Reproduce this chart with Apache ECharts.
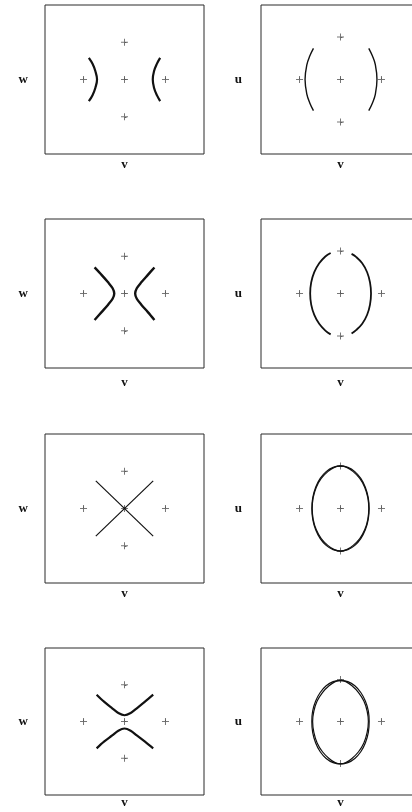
<!DOCTYPE html>
<html>
<head>
<meta charset="utf-8">
<script src="https://cdn.jsdelivr.net/npm/echarts@6/dist/echarts.min.js"></script>
<style>
  html, body { margin: 0; padding: 0; background: #fff; }
  #chart { width: 412px; height: 812px; }
</style>
</head>
<body>
<div id="chart"></div>
<script>
// Reference crosses and edge ticks (data units)
const crossPts = [[0, 0], [1, 0], [-1, 0], [0, 1], [0, -1]]
const tickVals = [-1, 0, 1]

// Row 1
const r1LeftA = [[-0.87, 0.58], [-0.78, 0.42], [-0.71, 0.22], [-0.67, 0], [-0.71, -0.22], [-0.78, -0.42], [-0.87, -0.58]]
const r1LeftB = [[0.87, 0.58], [0.79, 0.42], [0.72, 0.22], [0.69, 0], [0.72, -0.22], [0.79, -0.42], [0.87, -0.58]]
const r1RightA = [[-0.66, 0.73], [-0.75, 0.55], [-0.82, 0.35], [-0.865, 0], [-0.82, -0.35], [-0.75, -0.55], [-0.66, -0.73]]
const r1RightB = [[0.69, 0.73], [0.78, 0.55], [0.85, 0.35], [0.89, 0], [0.85, -0.35], [0.78, -0.55], [0.69, -0.73]]

// Row 2
const r2LeftA = [[-0.73, 0.70], [-0.56, 0.50], [-0.40, 0.30], [-0.29, 0.14], [-0.25, 0], [-0.29, -0.14], [-0.40, -0.30], [-0.56, -0.50], [-0.73, -0.71]]
const r2LeftB = [[0.73, 0.70], [0.57, 0.50], [0.41, 0.30], [0.30, 0.14], [0.26, 0], [0.30, -0.14], [0.41, -0.30], [0.57, -0.50], [0.73, -0.71]]
const r2RightA = [[-0.24, 0.95], [-0.37, 0.87], [-0.52, 0.71], [-0.64, 0.50], [-0.715, 0.26], [-0.74, 0], [-0.715, -0.26], [-0.64, -0.50], [-0.52, -0.71], [-0.37, -0.87], [-0.24, -0.96]]
const r2RightB = [[0.27, 0.93], [0.38, 0.86], [0.53, 0.71], [0.65, 0.50], [0.72, 0.26], [0.745, 0], [0.72, -0.26], [0.65, -0.50], [0.53, -0.71], [0.38, -0.86], [0.27, -0.94]]

// Row 3
const r3LeftA = [[-0.70, 0.74], [0.70, -0.74]]
const r3LeftB = [[-0.70, -0.74], [0.70, 0.74]]
const r3RightA = [[0, 1], [0.18, 0.966], [0.35, 0.866], [0.495, 0.707], [0.606, 0.5], [0.676, 0.259], [0.70, 0], [0.676, -0.259], [0.606, -0.5], [0.495, -0.707], [0.35, -0.866], [0.18, -0.966], [0, -1],
  [-0.18, -0.966], [-0.35, -0.866], [-0.495, -0.707], [-0.606, -0.5], [-0.676, -0.259], [-0.70, 0], [-0.676, 0.259], [-0.606, 0.5], [-0.495, 0.707], [-0.35, 0.866], [-0.18, 0.966], [0, 1]]
const r3RightB = [[0, 1], [0.15, 0.966], [0.31, 0.866], [0.47, 0.707], [0.59, 0.5], [0.665, 0.259], [0.69, 0], [0.665, -0.259], [0.59, -0.5], [0.47, -0.707], [0.31, -0.866], [0.15, -0.966], [0, -1],
  [-0.15, -0.966], [-0.31, -0.866], [-0.47, -0.707], [-0.59, -0.5], [-0.665, -0.259], [-0.69, 0], [-0.665, 0.259], [-0.59, 0.5], [-0.47, 0.707], [-0.31, 0.866], [-0.15, 0.966], [0, 1]]

// Row 4
const r4LeftA = [[-0.68, 0.73], [-0.5, 0.54], [-0.3, 0.36], [-0.15, 0.23], [0, 0.17], [0.15, 0.23], [0.3, 0.36], [0.5, 0.54], [0.70, 0.73]]
const r4LeftB = [[-0.68, -0.73], [-0.5, -0.55], [-0.3, -0.38], [-0.15, -0.25], [0, -0.19], [0.15, -0.25], [0.3, -0.38], [0.5, -0.55], [0.70, -0.73]]
const r4RightA = [[0, 0.98], [0.18, 0.95], [0.35, 0.85], [0.495, 0.69], [0.606, 0.49], [0.68, 0.25], [0.70, 0], [0.68, -0.26], [0.606, -0.51], [0.495, -0.72], [0.35, -0.88], [0.18, -0.98], [0, -1.01],
  [-0.18, -0.98], [-0.35, -0.88], [-0.495, -0.72], [-0.606, -0.51], [-0.68, -0.26], [-0.70, 0], [-0.68, 0.25], [-0.606, 0.49], [-0.495, 0.69], [-0.35, 0.85], [-0.18, 0.95], [0, 0.98]]
const r4RightB = [[0, 0.98], [0.13, 0.95], [0.28, 0.85], [0.44, 0.69], [0.57, 0.49], [0.65, 0.25], [0.68, 0], [0.65, -0.26], [0.57, -0.51], [0.44, -0.72], [0.28, -0.88], [0.13, -0.98], [0, -1.01],
  [-0.13, -0.98], [-0.28, -0.88], [-0.44, -0.72], [-0.57, -0.51], [-0.65, -0.26], [-0.68, 0], [-0.65, 0.25], [-0.57, 0.49], [-0.44, 0.69], [-0.28, 0.85], [-0.13, 0.95], [0, 0.98]]

// Panel setup: column, row, left axis name, curves, line width
const panels = [
  { col: 0, row: 0, name: 'w', curves: [r1LeftA, r1LeftB], lw: 2.2, smooth: 0.4 },
  { col: 1, row: 0, name: 'u', curves: [r1RightA, r1RightB], lw: 1.4, smooth: 0.4 },
  { col: 0, row: 1, name: 'w', curves: [r2LeftA, r2LeftB], lw: 2.4, smooth: 0.3 },
  { col: 1, row: 1, name: 'u', curves: [r2RightA, r2RightB], lw: 1.8, smooth: 0.4 },
  { col: 0, row: 2, name: 'w', curves: [r3LeftA, r3LeftB], lw: 1.2, smooth: false },
  { col: 1, row: 2, name: 'u', curves: [r3RightA, r3RightB], lw: 1.2, smooth: 0.4 },
  { col: 0, row: 3, name: 'w', curves: [r4LeftA, r4LeftB], lw: 2.2, smooth: 0.3 },
  { col: 1, row: 3, name: 'u', curves: [r4RightA, r4RightB], lw: 1.2, smooth: 0.4 }
]

const rowTops = [5, 219, 434, 648]
const rowHeights = [149, 149, 149, 147]
const rowNameGaps = [4.5, 8.5, 4, 1]
const colLefts = [45, 261]
const colNameGaps = [17, 19]
const boxW = 159
const serif = '"Liberation Serif", "DejaVu Serif", serif'
const crossSymbol = 'path://M3,0h1v3h3v1h-3v3h-1v-3h-3v-1h3z'

const grid = []
const xAxis = []
const yAxis = []
const series = []

panels.forEach((p, i) => {
  grid.push({
    left: colLefts[p.col],
    top: rowTops[p.row],
    width: boxW,
    height: rowHeights[p.row],
    outerBoundsMode: 'none',
    containLabel: false,
    show: true,
    borderColor: '#2a2a2a',
    borderWidth: 1,
    backgroundColor: 'transparent'
  })

  xAxis.push({
    gridIndex: i,
    type: 'value',
    min: -1.94,
    max: 1.94,
    name: 'v',
    nameLocation: 'middle',
    nameGap: rowNameGaps[p.row],
    nameTextStyle: { fontFamily: serif, fontSize: 13, fontWeight: 'bold', color: '#111' },
    axisLine: { show: false },
    axisTick: { show: true, inside: true, length: 2, customValues: tickVals, lineStyle: { color: '#666' } },
    axisLabel: { show: false },
    splitLine: { show: false }
  })

  const yr = p.col === 0 ? 2 : 1.75
  yAxis.push({
    gridIndex: i,
    type: 'value',
    min: -yr,
    max: yr,
    name: p.name,
    nameLocation: 'middle',
    nameRotate: 0,
    nameGap: colNameGaps[p.col],
    nameTextStyle: { fontFamily: serif, fontSize: 13, fontWeight: 'bold', color: '#111' },
    axisLine: { show: false },
    axisTick: { show: true, inside: true, length: 2, customValues: tickVals, lineStyle: { color: '#666' } },
    axisLabel: { show: false },
    splitLine: { show: false }
  })

  series.push({
    type: 'scatter',
    xAxisIndex: i,
    yAxisIndex: i,
    data: crossPts,
    symbol: crossSymbol,
    symbolSize: 7,
    itemStyle: { color: '#555' },
    silent: true
  })

  p.curves.forEach(c => {
    series.push({
      type: 'line',
      xAxisIndex: i,
      yAxisIndex: i,
      data: c,
      smooth: p.smooth,
      showSymbol: false,
      lineStyle: { color: '#111', width: p.lw },
      silent: true
    })
  })
})

const chart = echarts.init(document.getElementById('chart'))
chart.setOption({
  animation: false,
  backgroundColor: '#fff',
  grid,
  xAxis,
  yAxis,
  series
})
</script>
</body>
</html>
